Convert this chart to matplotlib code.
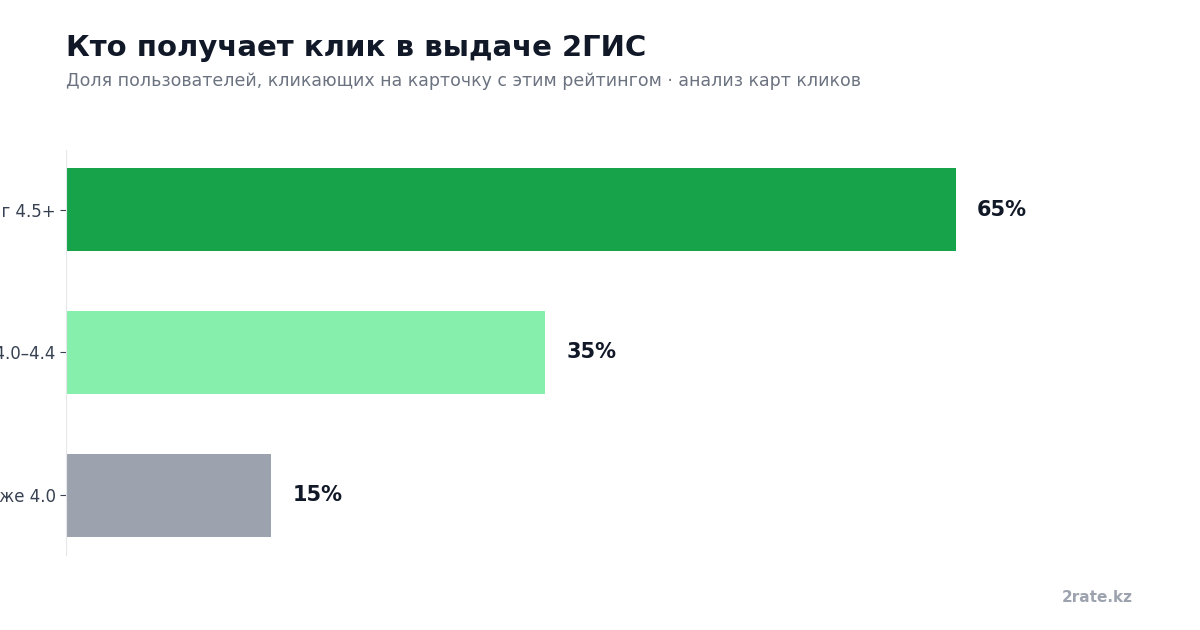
import matplotlib
matplotlib.use("Agg")
import matplotlib.pyplot as plt

# Data
categories = ["Рейтинг 4.5+", "Рейтинг 4.0–4.4", "Ниже 4.0"]
values = [65, 35, 15]
value_labels = ["65%", "35%", "15%"]
colors = ["#16a34a", "#86efac", "#9ca3af"]

plt.rcParams['font.family'] = ['DejaVu Sans']

fig = plt.figure(figsize=(12, 6.3), dpi=100)
ax = fig.add_axes([0.055, 0.119, 0.89, 0.643])

ax.barh(categories, values, height=0.58, color=colors)
ax.invert_yaxis()
ax.set_xlim(0, max(values) * 1.2)

for i, (v, lab) in enumerate(zip(values, value_labels)):
    ax.annotate(lab, xy=(v, i), xytext=(15, 0), textcoords="offset points",
                va="center", ha="left", fontsize=15, fontweight="bold", color="#111827")

ax.xaxis.set_visible(False)
for s in ["top", "right", "bottom"]:
    ax.spines[s].set_visible(False)
ax.spines["left"].set_color("#e5e7eb")
ax.tick_params(axis="y", labelsize=12, labelcolor="#374151", color="#374151", length=4)

fig.text(0.055, 0.924, "Кто получает клик в выдаче 2ГИС", fontsize=21,
         fontweight="bold", color="#111827", va="center")
fig.text(0.055, 0.872, "Доля пользователей, кликающих на карточку с этим рейтингом · анализ карт кликов",
         fontsize=12.5, color="#6b7280", va="center")
fig.text(0.944, 0.052, "2rate.kz", fontsize=11, fontweight="bold", color="#9ca3af",
         ha="right", va="center")

fig.savefig("out.png", dpi=100)
